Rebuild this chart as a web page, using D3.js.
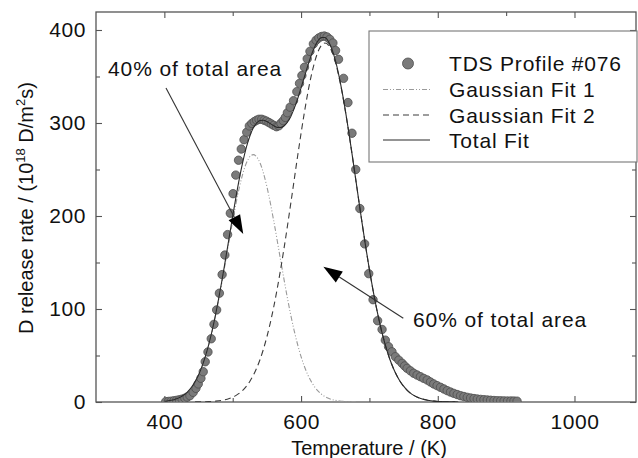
<!DOCTYPE html>
<html>
<head>
<meta charset="utf-8">
<script src="https://cdn.jsdelivr.net/npm/d3@7"></script>
<style>
  html, body { margin: 0; padding: 0; background: #fff; }
  svg { display: block; font-family: "Liberation Sans", Arial, Helvetica, sans-serif; }
</style>
</head>
<body>
<svg id="chart" width="638" height="458"></svg>
<script>
// ---- TDS profile #076: measured desorption points (temperature K, rate 1e18 D/m^2 s)
const tdsTemp = [402,406,410,414,418,422,426,430,433.5,437.4,442.2,446.2,449.6,453.5,456.9,459.8,463.8,468.6,472.6,476.5,
  480.5,484.5,488.5,492.5,496.5,500.5,504.5,508.5,512.5,516.5,520.5,524.3,528,531.5,535,538.5,542.5,546,549.5,553,
  556.5,560,564,567.5,570.5,574,577,580,584,589,593.8,597.7,601.2,605,609,613,618,622,626,630,
  634,638,642,646.6,650.5,654.8,662.2,668.6,674.5,680,686,693,699,705.3,712,718.5,723.3,728,733,738,
  743,747.8,751.5,755.1,760,764.8,769.7,774.6,779.5,784.5,789.3,794.1,799,804,809,813.8,818.6,823.5,828.4,833.3,
  838.2,843.1,848,853,857.8,862.7,867.5,872.4,877.3,882.2,887.1,892,897,902,907,911.4,916];
const tdsRate = [0.4,0.6,0.9,1.3,1.8,2.4,3.1,4.0,5.2,6.8,10.4,14.7,19.4,25.5,32.6,43.3,53.8,68,83.5,99,
  117,137,158,180,203,224,244,260,272,282,290,296.8,299.5,301.5,303,304,304,303,302,300.5,
  299,297.5,296,297,299.7,302.5,306,311,317,324,333.7,342.6,351,360,369,377,385,389,391.5,393,
  393.5,392.5,390,386,378,368.5,348,322,289,250,208,170,138,110,87.4,78,66.5,59.5,54,48.7,
  45,41.6,38.8,36.2,33.5,30.9,29,27.2,25.4,23.7,21.5,19.4,17.6,15.8,14,12.2,10.7,9.3,8,6.8,
  5.9,5,4.3,3.7,3.2,2.8,2.5,2.2,1.9,1.6,1.4,1.3,1.2,1.1,1.1,1.0,0.9];

// ---- Gaussian fit 1 (low-temperature peak), sampled every 10 K
const fit1Temp = [400,410,420,430,440,450,460,470,480,490,500,510,520,530,540,550,560,570,580,590,600,610,620,630,640,650,660,670,680];
const fit1Rate = [0.8,1.8,4.0,8.3,16.1,29.0,48.8,76.5,111.9,152.9,194.8,231.6,257.0,266.0,257.0,231.6,194.8,152.9,111.9,76.5,48.8,29.0,16.1,8.3,4.0,1.8,0.8,0.3,0.1];

// ---- Gaussian fit 2 (high-temperature peak), sampled every 10 K
const fit2Temp = [445,455,465,475,485,495,505,515,525,535,545,555,565,575,585,595,605,615,625,635,
  645,655,665,675,685,695,705,715,725,735,745,755,765,775,785,795,805,815,825];
const fit2Rate = [0.1,0.2,0.4,0.9,1.9,3.8,7.1,12.8,22.1,36.3,56.9,85.1,121.3,164.9,213.8,264.5,312.0,351.2,377.0,386.0,
  377.0,351.2,312.0,264.5,213.8,164.9,121.3,85.1,56.9,36.3,22.1,12.8,7.1,3.8,1.9,0.9,0.4,0.2,0.1];

// ---- Total fit, sampled every 5 K
const totalTemp = [400,405,410,415,420,425,430,435,440,445,450,455,460,465,470,475,480,485,490,495,
  500,505,510,515,520,525,530,535,540,545,550,555,560,565,570,575,580,585,590,595,
  600,605,610,615,620,625,630,635,640,645,650,655,660,665,670,675,680,685,690,695,
  700,705,710,715,720,725,730,735,740,745,750,755,760,765,770,775,780,785,790,795,
  800,805,810,815,820,825,830];
const totalRate = [0.8,1.2,1.8,2.7,4.0,5.9,8.3,11.7,16.1,21.9,29.1,38.1,49.1,62.0,77.1,94.2,113.2,133.8,155.6,177.8,
  200.0,221.3,241.2,258.9,274.0,285.8,294.5,300.0,302.7,303.0,301.6,299.3,297.0,295.3,295.1,296.8,300.8,307.1,315.7,326.1,
  337.8,349.9,362.0,373.0,382.1,388.7,392.0,391.9,387.7,379.7,367.8,352.4,333.8,312.5,289.3,264.7,239.3,213.8,188.9,164.9,
  142.2,121.3,102.2,85.1,70.0,56.9,45.7,36.3,28.5,22.1,17.0,12.8,9.6,7.1,5.2,3.8,2.7,1.9,1.3,0.9,
  0.6,0.4,0.3,0.2,0.1,0.1,0.0];

// ---- axis ticks
const xMajorTicks = [400, 600, 800, 1000];
const xMinorTicks = [500, 700, 900];
const yMajorTicks = [0, 100, 200, 300, 400];
const yMinorTicks = [50, 150, 250, 350];

// ---- legend and annotation texts
const legendLabels = ["TDS Profile #076", "Gaussian Fit 1", "Gaussian Fit 2", "Total Fit"];
const annotationLabels = ["40% of total area", "60% of total area"];
// anchors in data units: text position, arrow tail, arrow tip
const annotationText = [[317.6, 350.5], [763.8, 80.6]];
const annotationTail = [[402.4, 337.6], [749.6, 90.0]];
const annotationTip  = [[515.4, 180.6], [632.6, 145.5]];

// ---------------------------------------------------------------
const svg = d3.select("#chart");
const plot = { left: 96, right: 636, top: 12, bottom: 402 };

const x = d3.scaleLinear().domain([300, 1090]).range([plot.left, plot.right]);
const y = d3.scaleLinear().domain([0, 419.35]).range([plot.bottom, plot.top]);

const ink = "#111";
const frameColor = "#555";
const tickFont = 21;

svg.append("defs").append("clipPath").attr("id", "plotClip")
  .append("rect")
  .attr("x", plot.left).attr("y", plot.top)
  .attr("width", plot.right - plot.left).attr("height", plot.bottom - plot.top);

// axes with inward ticks
function styleAxis(g, showText) {
  g.select(".domain").remove();
  g.selectAll(".tick line").attr("stroke", frameColor).attr("stroke-width", 1.1);
  g.attr("font-family", null).attr("font-size", null);
  if (showText) {
    g.selectAll(".tick text")
      .attr("fill", ink)
      .attr("font-size", tickFont)
      .attr("letter-spacing", "0.6px");
  } else {
    g.selectAll(".tick text").remove();
  }
}

svg.append("g").attr("transform", `translate(0,${plot.bottom})`)
  .call(d3.axisBottom(x).tickValues(xMajorTicks).tickSizeInner(-6).tickSizeOuter(0)
    .tickPadding(12).tickFormat(d3.format("d")))
  .call(g => styleAxis(g, true));
svg.append("g").attr("transform", `translate(0,${plot.bottom})`)
  .call(d3.axisBottom(x).tickValues(xMinorTicks).tickSizeInner(-4).tickSizeOuter(0))
  .call(g => styleAxis(g, false));
svg.append("g").attr("transform", `translate(0,${plot.top})`)
  .call(d3.axisTop(x).tickValues(xMajorTicks).tickSizeInner(-6).tickSizeOuter(0))
  .call(g => styleAxis(g, false));
svg.append("g").attr("transform", `translate(0,${plot.top})`)
  .call(d3.axisTop(x).tickValues(xMinorTicks).tickSizeInner(-4).tickSizeOuter(0))
  .call(g => styleAxis(g, false));

svg.append("g").attr("transform", `translate(${plot.left},0)`)
  .call(d3.axisLeft(y).tickValues(yMajorTicks).tickSizeInner(-6).tickSizeOuter(0)
    .tickPadding(10).tickFormat(d3.format("d")))
  .call(g => styleAxis(g, true));
svg.append("g").attr("transform", `translate(${plot.left},0)`)
  .call(d3.axisLeft(y).tickValues(yMinorTicks).tickSizeInner(-4).tickSizeOuter(0))
  .call(g => styleAxis(g, false));
svg.append("g").attr("transform", `translate(${plot.right},0)`)
  .call(d3.axisRight(y).tickValues(yMajorTicks).tickSizeInner(-6).tickSizeOuter(0))
  .call(g => styleAxis(g, false));
svg.append("g").attr("transform", `translate(${plot.right},0)`)
  .call(d3.axisRight(y).tickValues(yMinorTicks).tickSizeInner(-4).tickSizeOuter(0))
  .call(g => styleAxis(g, false));

// plot frame
svg.append("rect")
  .attr("x", plot.left).attr("y", plot.top)
  .attr("width", plot.right - plot.left).attr("height", plot.bottom - plot.top)
  .attr("fill", "none").attr("stroke", frameColor).attr("stroke-width", 1.3);

// axis titles
svg.append("text")
  .attr("x", (plot.left + plot.right) / 2 + 3).attr("y", 455)
  .attr("text-anchor", "middle").attr("font-size", 20).attr("fill", ink)
  .text("Temperature / (K)");

const yTitle = svg.append("text")
  .attr("transform", `translate(33,${(plot.top + plot.bottom) / 2 + 1}) rotate(-90)`)
  .attr("text-anchor", "middle").attr("font-size", 20).attr("fill", ink);
yTitle.append("tspan").text("D release rate / (10");
yTitle.append("tspan").attr("font-size", 13).attr("dy", -8).text("18");
yTitle.append("tspan").attr("dy", 8).text(" D/m");
yTitle.append("tspan").attr("font-size", 13).attr("dy", -8).text("2");
yTitle.append("tspan").attr("dy", 8).text("s)");

// data layer
const layer = svg.append("g").attr("clip-path", "url(#plotClip)");

const tdsPoints = tdsTemp.map((t, i) => [t, tdsRate[i]]);
layer.append("g").selectAll("circle").data(tdsPoints).join("circle")
  .attr("cx", d => x(d[0])).attr("cy", d => y(d[1])).attr("r", 4.2)
  .attr("fill", "#7a7a7a").attr("stroke", "#4e4e4e").attr("stroke-width", 0.8);

const line = d3.line().x(d => x(d[0])).y(d => y(d[1])).curve(d3.curveMonotoneX);
const fitStyles = [
  { temp: fit1Temp, rate: fit1Rate, stroke: "#9a9a9a", width: 1.1, dash: "5,2,1,2,1,2" },
  { temp: fit2Temp, rate: fit2Rate, stroke: "#3c3c3c", width: 1.1, dash: "6,4" },
  { temp: totalTemp, rate: totalRate, stroke: "#2a2a2a", width: 1.1, dash: null }
];
fitStyles.forEach(f => {
  layer.append("path")
    .datum(f.temp.map((t, i) => [t, f.rate[i]]))
    .attr("d", line)
    .attr("fill", "none")
    .attr("stroke", f.stroke)
    .attr("stroke-width", f.width)
    .attr("stroke-dasharray", f.dash);
});

// annotations with arrows
annotationLabels.forEach((label, i) => {
  const [tx, ty] = [x(annotationText[i][0]), y(annotationText[i][1])];
  svg.append("text").attr("x", tx).attr("y", ty)
    .attr("font-size", tickFont).attr("letter-spacing", "0.9px").attr("fill", ink)
    .text(label);

  const x0 = x(annotationTail[i][0]), y0 = y(annotationTail[i][1]);
  const x1 = x(annotationTip[i][0]),  y1 = y(annotationTip[i][1]);
  const ang = Math.atan2(y1 - y0, x1 - x0);
  const headLen = 19, headHalf = 6.5;
  const bx = x1 - headLen * Math.cos(ang), by = y1 - headLen * Math.sin(ang);
  svg.append("line")
    .attr("x1", x0).attr("y1", y0).attr("x2", bx).attr("y2", by)
    .attr("stroke", "#333").attr("stroke-width", 1.1);
  const px = -Math.sin(ang) * headHalf, py = Math.cos(ang) * headHalf;
  svg.append("path")
    .attr("d", `M${x1},${y1}L${bx + px},${by + py}L${bx - px},${by - py}Z`)
    .attr("fill", "#000");
});

// legend
const lg = svg.append("g");
lg.append("rect")
  .attr("x", 369).attr("y", 31).attr("width", 268).attr("height", 131)
  .attr("fill", "#fff").attr("stroke", "#777").attr("stroke-width", 1.1);
const rowY = [63.5, 89.5, 115, 140];
legendLabels.forEach((label, i) => {
  if (i === 0) {
    lg.append("circle").attr("cx", 408).attr("cy", rowY[i]).attr("r", 5.5)
      .attr("fill", "#7a7a7a").attr("stroke", "#4e4e4e").attr("stroke-width", 0.8);
  } else {
    const f = fitStyles[i - 1];
    lg.append("line").attr("x1", 383).attr("x2", 430).attr("y1", rowY[i]).attr("y2", rowY[i])
      .attr("stroke", f.stroke).attr("stroke-width", f.width).attr("stroke-dasharray", f.dash);
  }
  lg.append("text").attr("x", 449).attr("y", rowY[i] + 7.5)
    .attr("font-size", tickFont).attr("letter-spacing", "0.8px").attr("fill", ink)
    .text(label);
});
</script>
</body>
</html>
